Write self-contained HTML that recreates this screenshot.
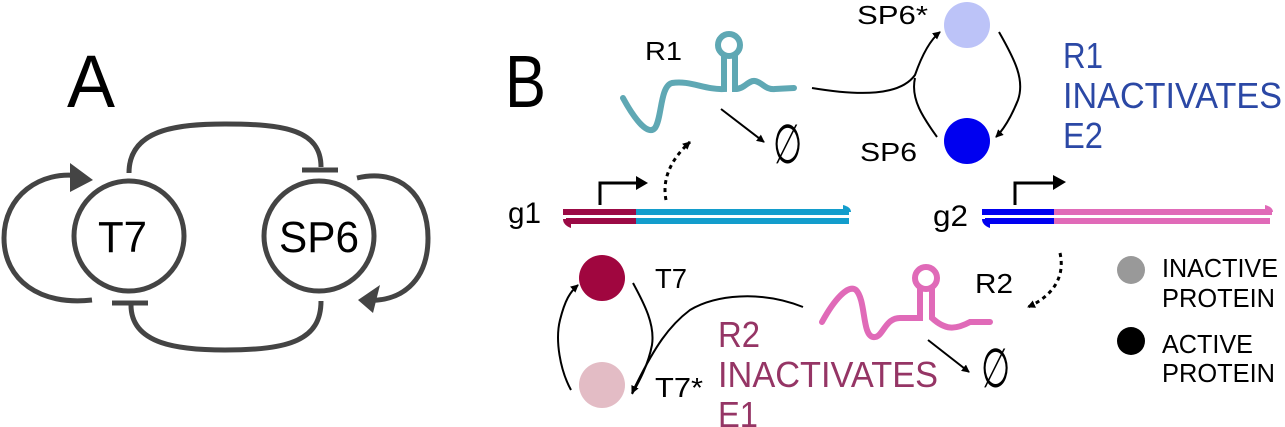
<!DOCTYPE html>
<html><head><meta charset="utf-8"><style>html,body{margin:0;padding:0;background:#fff;width:1285px;height:427px;overflow:hidden}
text{font-family:"Liberation Sans",sans-serif}</style></head>
<body>
<svg width="1285" height="427" viewBox="0 0 1285 427" xmlns="http://www.w3.org/2000/svg">
<defs>
<marker id="ah" markerWidth="8" markerHeight="8" refX="7" refY="4" orient="auto" markerUnits="userSpaceOnUse"><path d="M0,0 L8,4 L0,8 Z" fill="#000"/></marker>
</defs>
<!-- Panel A -->
<text x="67" y="107" style="font-size:74px" textLength="48" lengthAdjust="spacingAndGlyphs">A</text>
<g fill="none" stroke="#444" stroke-width="5">
<circle cx="129" cy="236" r="55"/>
<circle cx="319" cy="236" r="55"/>
<path d="M129,173 C129,130 175,124 225,124 C285,124 321,130 321,167"/>
<line x1="302" y1="170" x2="338" y2="170"/>
<path d="M131,305 C131,345 180,350 225,350 C290,350 321,340 321,301"/>
<line x1="112" y1="303" x2="148" y2="303"/>
<path d="M92,300 C40,306 4,280 4,238 C4,196 40,170 80,176"/>
<path d="M357,178 C400,168 428,195 428,238 C428,282 400,303 365,300"/>
</g>
<path d="M70,163 L93,180 L70,192 Z" fill="#444"/>
<path d="M358,300 L380,285 L373,313 Z" fill="#444"/>
<text x="98" y="252" style="font-size:44px" textLength="49" lengthAdjust="spacingAndGlyphs">T7</text>
<text x="279" y="252" style="font-size:44px" textLength="80" lengthAdjust="spacingAndGlyphs">SP6</text>
<!-- Panel B -->
<text x="505" y="107" style="font-size:74px" textLength="41" lengthAdjust="spacingAndGlyphs">B</text>
<text x="645" y="60" style="font-size:26px" textLength="37" lengthAdjust="spacingAndGlyphs">R1</text>
<g fill="none" stroke="#5fa8b4" stroke-width="6" stroke-linecap="round">
<path d="M623,98 C635,120 648,136 655,128 C662,118 660,86 672,83 C690,80 705,90 724,89 L724,55"/>
<circle cx="729" cy="45" r="11"/>
<path d="M735,55 L735,89 C745,89 748,80 755,81 C762,82 765,90 775,89 L794,88"/>
</g>
<line x1="721" y1="109" x2="764" y2="142" stroke="#000" stroke-width="2" marker-end="url(#ah)"/>
<text transform="translate(773,163) scale(0.8,1.3)" style="font-family:'Liberation Serif',serif;font-size:42px">∅</text>
<path d="M666,200 C662,180 670,160 690,142" fill="none" stroke="#000" stroke-width="3" stroke-dasharray="4,4" marker-end="url(#ah)"/>
<path d="M600,205 L600,183 L638,183" fill="none" stroke="#000" stroke-width="3"/>
<path d="M636,176 L648,183 L636,190 Z" fill="#000"/>
<text x="508" y="223" style="font-size:30px" textLength="33" lengthAdjust="spacingAndGlyphs">g1</text>
<rect x="563" y="209" width="73" height="6" fill="#9b0a45"/>
<rect x="636" y="209" width="213" height="6" fill="#139dcc"/>
<path d="M843,205 Q851,207 851,212 L843,212 Z" fill="#139dcc"/>
<rect x="566" y="218" width="70" height="6" fill="#9b0a45"/>
<rect x="636" y="218" width="213" height="6" fill="#139dcc"/>
<path d="M571,228 Q563,225 563,219 L571,219 Z" fill="#9b0a45"/>
<!-- SP6 cycle -->
<path d="M812,88 C860,96 900,96 915,75 C922,55 930,40 940,32" fill="none" stroke="#000" stroke-width="2" marker-end="url(#ah)"/>
<path d="M915,78 C910,100 925,120 937,137" fill="none" stroke="#000" stroke-width="2"/>
<path d="M999,32 C1015,60 1025,80 1018,100 C1012,115 1005,128 996,137" fill="none" stroke="#000" stroke-width="2" marker-end="url(#ah)"/>
<circle cx="967" cy="25" r="23" fill="#bcc3f8"/>
<circle cx="967" cy="141" r="23" fill="#0000f0"/>
<text x="857" y="24" style="font-size:26px" textLength="71" lengthAdjust="spacingAndGlyphs">SP6*</text>
<text x="860" y="161" style="font-size:26px" textLength="57" lengthAdjust="spacingAndGlyphs">SP6</text>
<g fill="#2b48a5" style="font-size:36px">
<text x="1063" y="68" textLength="40" lengthAdjust="spacingAndGlyphs">R1</text>
<text x="1063" y="108" textLength="219" lengthAdjust="spacingAndGlyphs">INACTIVATES</text>
<text x="1063" y="148" textLength="40" lengthAdjust="spacingAndGlyphs">E2</text></g>
<!-- g2 -->
<text x="933" y="226" style="font-size:30px" textLength="35" lengthAdjust="spacingAndGlyphs">g2</text>
<rect x="982" y="209" width="72" height="6" fill="#0000f0"/>
<rect x="1054" y="209" width="218" height="6" fill="#e06ab8"/>
<path d="M1265,205 Q1273,207 1273,212 L1265,212 Z" fill="#e06ab8"/>
<rect x="985" y="218" width="69" height="6" fill="#0000f0"/>
<rect x="1054" y="218" width="216" height="6" fill="#e06ab8"/>
<path d="M990,228 Q982,225 982,219 L990,219 Z" fill="#0000f0"/>
<path d="M1015,205 L1015,183 L1055,183" fill="none" stroke="#000" stroke-width="3"/>
<path d="M1053,175 L1066,182 L1053,190 Z" fill="#000"/>
<path d="M1060,253 C1065,275 1055,295 1028,307" fill="none" stroke="#000" stroke-width="3" stroke-dasharray="4,4" marker-end="url(#ah)"/>
<text x="975" y="293" style="font-size:28px" textLength="38" lengthAdjust="spacingAndGlyphs">R2</text>
<!-- R2 RNA -->
<g fill="none" stroke="#e06ab8" stroke-width="6" stroke-linecap="round">
<path d="M822,322 C834,300 848,284 856,290 C866,300 862,335 873,337 C883,339 884,318 900,318 L920,318 L920,289"/>
<circle cx="926" cy="278" r="11"/>
<path d="M932,289 L932,318 C945,330 955,330 970,322 L990,322"/>
</g>
<line x1="928" y1="340" x2="969" y2="372" stroke="#000" stroke-width="2" marker-end="url(#ah)"/>
<text transform="translate(981,387) scale(0.8,1.3)" style="font-family:'Liberation Serif',serif;font-size:42px">∅</text>
<!-- T7 cycle -->
<path d="M803,307 C760,290 715,295 690,310 C670,325 655,345 632,393" fill="none" stroke="#000" stroke-width="2" marker-end="url(#ah)"/>
<path d="M633,283 C645,305 655,325 652,345 C648,365 640,380 632,394" fill="none" stroke="#000" stroke-width="2"/>
<path d="M571,390 C560,370 555,340 560,320 C565,300 570,292 578,285" fill="none" stroke="#000" stroke-width="2" marker-end="url(#ah)"/>
<circle cx="602" cy="278" r="23" fill="#a0063f"/>
<circle cx="602" cy="385" r="23" fill="#e3bcc5"/>
<text x="655" y="288" style="font-size:28px" textLength="32" lengthAdjust="spacingAndGlyphs">T7</text>
<text x="655" y="397" style="font-size:28px" textLength="48" lengthAdjust="spacingAndGlyphs">T7*</text>
<g fill="#953565" style="font-size:36px">
<text x="718" y="347" textLength="42" lengthAdjust="spacingAndGlyphs">R2</text>
<text x="718" y="387" textLength="220" lengthAdjust="spacingAndGlyphs">INACTIVATES</text>
<text x="718" y="427" textLength="40" lengthAdjust="spacingAndGlyphs">E1</text></g>
<!-- legend -->
<circle cx="1131" cy="270" r="14" fill="#999"/>
<circle cx="1131" cy="341" r="14" fill="#000"/>
<g style="font-size:26px">
<text x="1162" y="277" textLength="116" lengthAdjust="spacingAndGlyphs">INACTIVE</text>
<text x="1162" y="307" textLength="113" lengthAdjust="spacingAndGlyphs">PROTEIN</text>
<text x="1162" y="353" textLength="91" lengthAdjust="spacingAndGlyphs">ACTIVE</text>
<text x="1162" y="382" textLength="113" lengthAdjust="spacingAndGlyphs">PROTEIN</text></g>
</svg>
</body></html>
